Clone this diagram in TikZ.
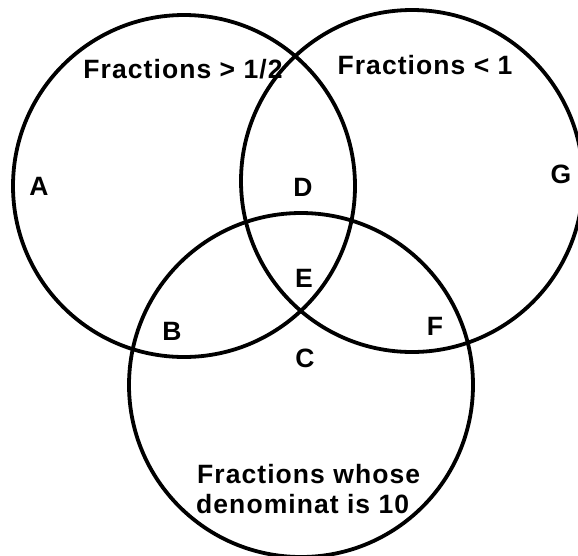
\documentclass[tikz,border=0pt]{standalone}
\usepackage{fontspec}
\newfontfamily\labfont{Liberation Sans}[LetterSpace=4]
\begin{document}
\begin{tikzpicture}[x=1pt,y=-1pt,
  ring/.style={draw=black,line width=3.8pt},
  lab/.style={font=\labfont\bfseries\fontsize{26.5}{30}\selectfont, inner sep=0pt, anchor=base}]
\useasboundingbox (0,0) rectangle (578,555);
\draw[ring] (184,186) circle[radius=171];
\draw[ring] (412,181) circle[radius=171];
\draw[ring] (301,385) circle[radius=172];
\node[lab] (t1) at (183,78) {Fractions > 1/2};
\node[lab] (t2) at (425,74) {Fractions < 1};
\node[lab,anchor=base west] (t3a) at (197,483) {Fractions whose};
\node[lab,anchor=base west] (t3b) at (196,513) {denominat is 10};
\node[lab] (A) at (39,195) {A};
\node[lab] (B) at (172,340) {B};
\node[lab] (C) at (305,367) {C};
\node[lab] (D) at (303,196) {D};
\node[lab] (E) at (304,287) {E};
\node[lab] (F) at (435,335) {F};
\node[lab] (G) at (561,183) {G};
\end{tikzpicture}
\end{document}
